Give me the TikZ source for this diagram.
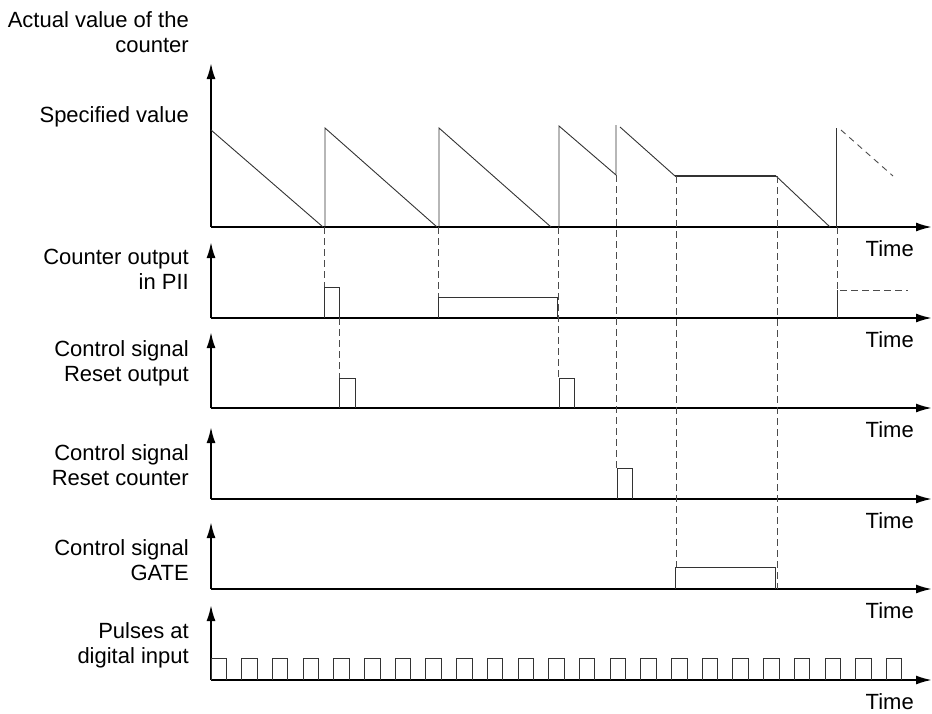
\documentclass[tikz,border=0pt]{standalone}
\usepackage{fontspec}
\setmainfont{Liberation Sans}
\usetikzlibrary{arrows.meta}

\begin{document}
\begin{tikzpicture}[
  x=1pt,y=-1pt,
  font=\fontsize{22}{25}\selectfont,
  axis/.style={line width=2pt,-{Latex[length=16pt,width=9pt]}},
  sig/.style={draw=black!80,line width=0.9pt},
  guide/.style={draw=black!70,line width=0.9pt,dash pattern=on 7pt off 4pt},
  lbl/.style={anchor=east,align=right,inner sep=0pt},
  timelbl/.style={anchor=east,inner sep=0pt}
]
  \useasboundingbox (0,0) rectangle (932,713);
  % axes, one per trace
  \foreach \b/\t [count=\k] in {227/63,318/242,408/332,499/427,589/522,680/605}{
    \draw[axis] (211,\b) -- (211,\t);
    \draw[axis] (211,\b) -- (932,\b);
    \node[timelbl] (time\k) at (914,\b+22) {Time};
  }
  \node[lbl] (lblact) at (189,32) {Actual value of the\\counter};
  \node[lbl] (lblspec) at (189,117) {Specified value};
  \node[lbl] (lblpii) at (189,269) {Counter output\\in PII};
  \node[lbl] (lblrstout) at (189,363) {Control signal\\Reset output};
  \node[lbl] (lblrstcnt) at (189,465) {Control signal\\Reset counter};
  \node[lbl] (lblgate) at (189,560) {Control signal\\GATE};
  \node[lbl] (lblpulse) at (189,645) {Pulses at\\digital input};
  % counter value
  \draw[sig] (211,130) -- (323,227);
  \draw[sig] (325,227) -- (325,128) -- (437,227);
  \draw[sig] (439,227) -- (439,128) -- (551,227);
  \draw[sig] (559,227) -- (559,126) -- (616,175) -- (616,125);
  \draw[sig] (620,127) -- (675,176);
  \draw[sig,line width=1.6pt] (675,176) -- (776,176);
  \draw[sig] (776,176) -- (830,227);
  \draw[sig] (836,227) -- (836,128);
  \draw[guide,dash pattern=on 6pt off 5pt] (841,130) -- (893,176);
  % guide lines
  \draw[guide] (324,227) -- (324,287);
  \draw[guide] (339,318) -- (339,378);
  \draw[guide] (438,227) -- (438,297);
  \draw[guide] (558,227) -- (558,378);
  \draw[guide] (616,175) -- (616,468);
  \draw[guide] (676,176) -- (676,567);
  \draw[guide] (777,176) -- (777,589);
  \draw[guide] (837,227) -- (837,290) -- (908,290);
  \draw[sig] (837,290) -- (837,318);
  % pulses
  \draw[sig] (324,318) -- (324,287) -- (339,287) -- (339,318);
  \draw[sig] (438,318) -- (438,297) -- (557,297) -- (557,318);
  \draw[sig] (339,408) -- (339,378) -- (355,378) -- (355,408);
  \draw[sig] (559,408) -- (559,378) -- (574,378) -- (574,408);
  \draw[sig] (617,499) -- (617,468) -- (632,468) -- (632,499);
  \draw[sig] (675,589) -- (675,567) -- (775,567) -- (775,589);
  \foreach \i in {0,...,22}
    \draw[sig] (211+30.7*\i,680) -- ++(0,-22) -- ++(15.5,0) -- ++(0,22);
\end{tikzpicture}
\end{document}
